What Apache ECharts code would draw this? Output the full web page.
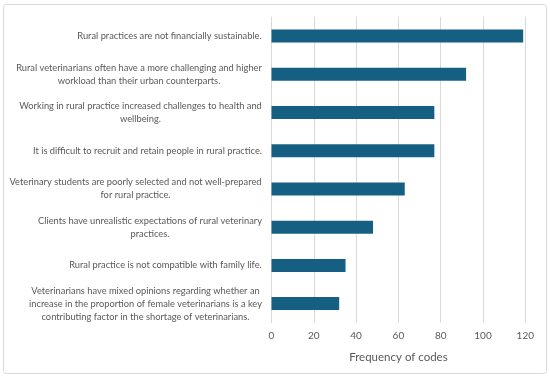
<!DOCTYPE html>
<html><head><meta charset="utf-8">
<script src="https://cdn.jsdelivr.net/npm/echarts@6/dist/echarts.min.js"></script>
<style>html,body{margin:0;padding:0;background:#fff}#c{width:550px;height:377px}</style>
</head><body><div id="c"></div>
<script>
const categories = [
  "Rural practices are not financially sustainable.",
  "Rural veterinarians often have a more challenging and higher\nworkload than their urban counterparts.",
  "Working in rural practice increased challenges to health and\nwellbeing.",
  "It is difficult to recruit and retain people in rural practice.",
  "Veterinary students are poorly selected and not well-prepared\nfor rural practice.",
  "Clients have unrealistic expectations of rural veterinary\npractices.",
  "Rural practice is not compatible with family life.",
  "Veterinarians have mixed opinions regarding whether an\nincrease in the proportion of female veterinarians is a key\ncontributing factor in the shortage of veterinarians."
];
const frequency = [119, 92, 77, 77, 63, 48, 35, 32];
const xTicks = [0, 20, 40, 60, 80, 100, 120];
const axisTitle = "Frequency of codes";

const FONT = "Lato";
const LSIZE = 9.3;
const cv = document.createElement('canvas').getContext('2d');
cv.font = LSIZE + 'px ' + FONT;
const yData = categories.map(c => {
  const w = Math.max(...c.split('\n').map(l => cv.measureText(l).width));
  return { value: c, textStyle: { width: Math.ceil(w) + 1 } };
});

const chart = echarts.init(document.getElementById('c'), null, {renderer: 'canvas'});
chart.setOption({
  animation: false,
  backgroundColor: '#fff',
  graphic: [{
    type: 'rect', left: 3, top: 4, z: -1,
    shape: { width: 543, height: 369, r: 3 },
    style: { fill: '#fff', stroke: '#d9d9d9', lineWidth: 1 }
  }],
  grid: { left: 271.5, right: 24.7, top: 17, bottom: 54.3, containLabel: false, outerBoundsMode: 'none' },
  xAxis: {
    type: 'value', min: xTicks[0], max: xTicks[xTicks.length - 1], interval: 20,
    name: axisTitle, nameLocation: 'middle', nameGap: 29,
    nameTextStyle: { color: '#595959', fontFamily: FONT, fontSize: 11.5 },
    axisLine: { show: false }, axisTick: { show: false },
    axisLabel: { color: '#595959', fontFamily: FONT, fontSize: 10, margin: 8 },
    splitLine: { show: true, lineStyle: { color: '#d9d9d9', width: 1 } }
  },
  yAxis: {
    type: 'category', inverse: true, data: yData,
    axisLine: { show: true, lineStyle: { color: '#d9d9d9' } },
    axisTick: { show: false },
    axisLabel: {
      color: '#595959', fontFamily: FONT, fontSize: LSIZE, lineHeight: 13,
      margin: 9, align: 'right',
      formatter: v => v.split('\n').map(l => '{c|' + l + '}').join('\n'),
      rich: { c: { align: 'center', color: '#595959', fontFamily: FONT, fontSize: LSIZE, lineHeight: 13 } }
    }
  },
  series: [{
    type: 'bar', data: frequency, barWidth: 13,
    itemStyle: { color: '#156082' }
  }]
});
</script></body></html>
